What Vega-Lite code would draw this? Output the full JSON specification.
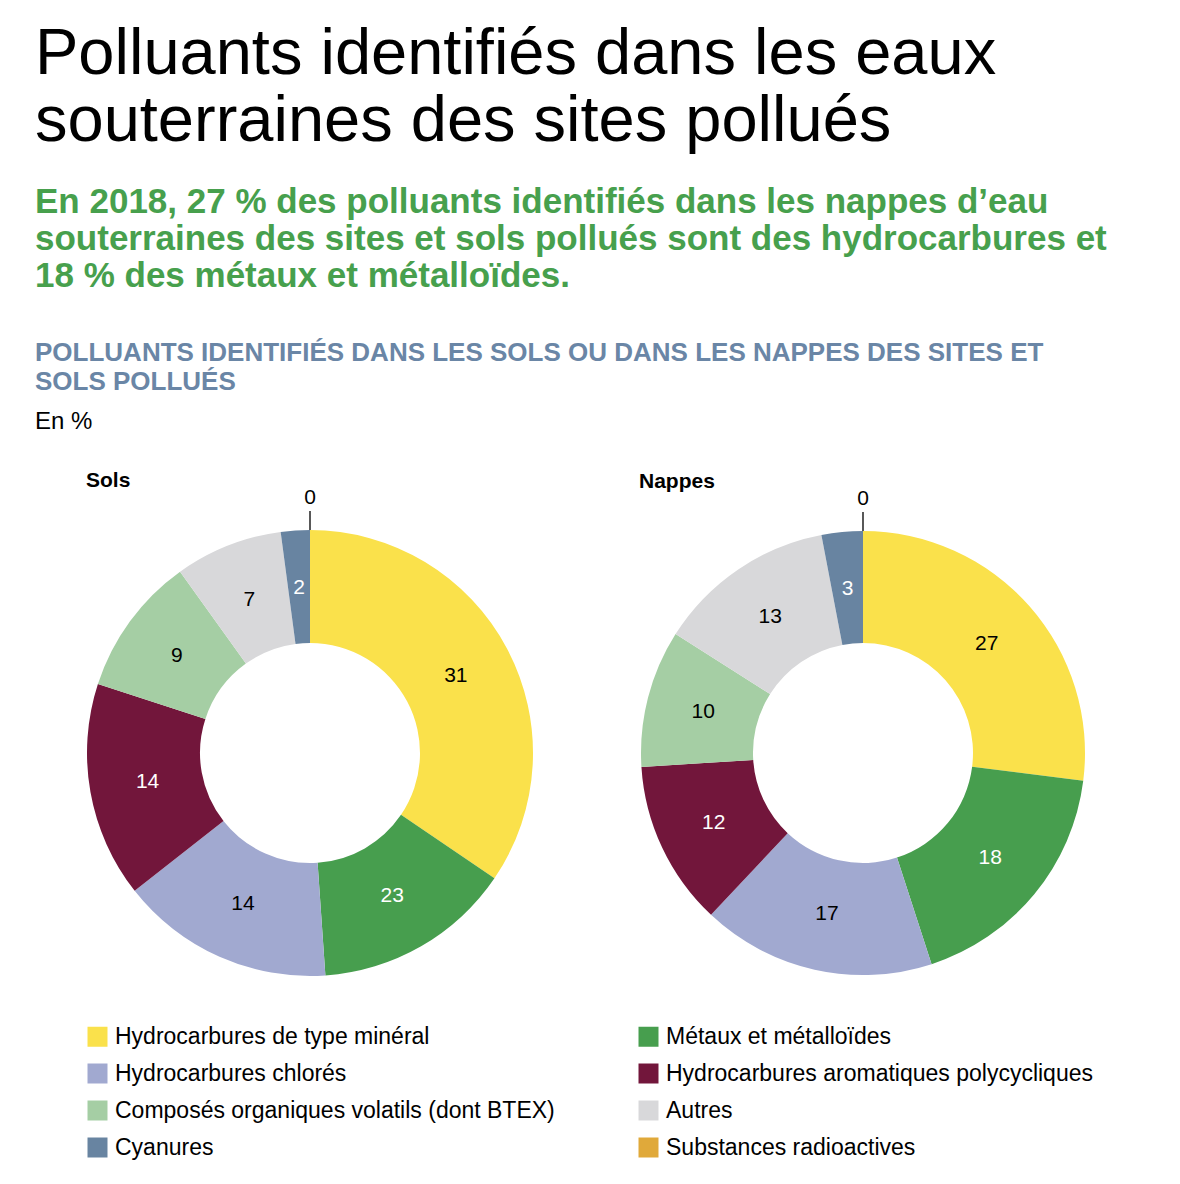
{
  "$schema": "https://vega.github.io/schema/vega-lite/v6.json",
  "background": "white",
  "padding": {"left": 35, "top": 22, "right": 10, "bottom": 10},
  "title": {
    "text": ["Polluants identifiés dans les eaux", "souterraines des sites pollués"],
    "subtitle": ["En 2018, 27 % des polluants identifiés dans les nappes d’eau", "souterraines des sites et sols pollués sont des hydrocarbures et", "18 % des métaux et métalloïdes."],
    "anchor": "start",
    "frame": "group",
    "dx": -51,
    "font": "Liberation Sans",
    "fontSize": 65,
    "fontWeight": "normal",
    "color": "black",
    "lineHeight": 67,
    "subtitleFont": "Liberation Sans",
    "subtitleFontSize": 35,
    "subtitleFontWeight": "bold",
    "subtitleColor": "#47a04d",
    "subtitleLineHeight": 37,
    "subtitlePadding": 30,
    "offset": 45
  },
  "data": {
    "values": [
      {"milieu": "Sols", "categorie": "Hydrocarbures de type minéral", "rang": 1, "part": 34.5, "valeur": 31},
      {"milieu": "Sols", "categorie": "Métaux et métalloïdes", "rang": 2, "part": 14.4, "valeur": 23},
      {"milieu": "Sols", "categorie": "Hydrocarbures chlorés", "rang": 3, "part": 15.5, "valeur": 14},
      {"milieu": "Sols", "categorie": "Hydrocarbures aromatiques polycycliques", "rang": 4, "part": 15.6, "valeur": 14},
      {"milieu": "Sols", "categorie": "Composés organiques volatils (dont BTEX)", "rang": 5, "part": 10.1, "valeur": 9},
      {"milieu": "Sols", "categorie": "Autres", "rang": 6, "part": 7.8, "valeur": 7},
      {"milieu": "Sols", "categorie": "Cyanures", "rang": 7, "part": 2.1, "valeur": 2},
      {"milieu": "Sols", "categorie": "Substances radioactives", "rang": 8, "part": 0, "valeur": 0},
      {"milieu": "Nappes", "categorie": "Hydrocarbures de type minéral", "rang": 1, "part": 27, "valeur": 27},
      {"milieu": "Nappes", "categorie": "Métaux et métalloïdes", "rang": 2, "part": 18, "valeur": 18},
      {"milieu": "Nappes", "categorie": "Hydrocarbures chlorés", "rang": 3, "part": 17, "valeur": 17},
      {"milieu": "Nappes", "categorie": "Hydrocarbures aromatiques polycycliques", "rang": 4, "part": 12, "valeur": 12},
      {"milieu": "Nappes", "categorie": "Composés organiques volatils (dont BTEX)", "rang": 5, "part": 10, "valeur": 10},
      {"milieu": "Nappes", "categorie": "Autres", "rang": 6, "part": 13, "valeur": 13},
      {"milieu": "Nappes", "categorie": "Cyanures", "rang": 7, "part": 3, "valeur": 3},
      {"milieu": "Nappes", "categorie": "Substances radioactives", "rang": 8, "part": 0, "valeur": 0}
    ]
  },
  "vconcat": [
    {
      "title": {
        "text": ["POLLUANTS IDENTIFIÉS DANS LES SOLS OU DANS LES NAPPES DES SITES ET", "SOLS POLLUÉS"],
        "subtitle": "En %",
        "anchor": "start",
        "frame": "group",
        "dx": -51,
        "font": "Liberation Sans",
        "fontSize": 26,
        "fontWeight": "bold",
        "color": "#6a86a6",
        "lineHeight": 29,
        "subtitleFont": "Liberation Sans",
        "subtitleFontSize": 24,
        "subtitleFontWeight": "normal",
        "subtitleColor": "black",
        "subtitlePadding": 15,
        "offset": 36
      },
      "spacing": 105,
      "hconcat": [
        {
          "title": {"text": "Sols", "anchor": "start", "frame": "group", "font": "Liberation Sans", "fontSize": 21, "fontWeight": "bold", "color": "black", "offset": -4},
          "width": 448,
          "height": 448,
          "transform": [{"filter": "datum.milieu === 'Sols'"}],
          "layer": [
            {
              "mark": {"type": "arc", "radius": 223, "innerRadius": 110},
              "encoding": {
                "theta": {"field": "part", "type": "quantitative", "stack": true},
                "order": {"field": "rang", "type": "quantitative"},
                "color": {
                  "field": "categorie",
                  "type": "nominal",
                  "scale": {
                    "domain": ["Hydrocarbures de type minéral", "Métaux et métalloïdes", "Hydrocarbures chlorés", "Hydrocarbures aromatiques polycycliques", "Composés organiques volatils (dont BTEX)", "Autres", "Cyanures", "Substances radioactives"],
                    "range": ["#fae14b", "#479e4e", "#a1a9d0", "#72163b", "#a5cea4", "#d8d8da", "#6884a1", "#e0a93a"]
                  }
                }
              }
            },
            {
              "transform": [{"filter": "datum.part > 0"}],
              "mark": {"type": "text", "radius": 165, "font": "Liberation Sans", "fontSize": 21, "align": "center", "baseline": "middle"},
              "encoding": {
                "theta": {"field": "part", "type": "quantitative", "stack": true},
                "order": {"field": "rang", "type": "quantitative"},
                "text": {"field": "valeur", "type": "quantitative"},
                "color": {"condition": {"test": "indexof(['Métaux et métalloïdes','Hydrocarbures aromatiques polycycliques','Cyanures'], datum.categorie) >= 0", "value": "white"}, "value": "black"}
              }
            },
            {
              "transform": [{"filter": "datum.part === 0"}],
              "mark": {"type": "arc", "radius": 242, "radius2": 223, "fill": null, "stroke": "black", "strokeWidth": 1.3},
              "encoding": {
                "theta": {"field": "part", "type": "quantitative", "stack": true}
              }
            },
            {
              "transform": [{"filter": "datum.part === 0"}],
              "mark": {"type": "text", "radius": 255, "font": "Liberation Sans", "fontSize": 21, "align": "center", "baseline": "middle", "color": "black"},
              "encoding": {
                "theta": {"field": "part", "type": "quantitative", "stack": true},
                "text": {"field": "valeur", "type": "quantitative"}
              }
            }
          ]
        },
        {
          "title": {"text": "Nappes", "anchor": "start", "frame": "group", "font": "Liberation Sans", "fontSize": 21, "fontWeight": "bold", "color": "black", "offset": -4},
          "width": 448,
          "height": 448,
          "transform": [{"filter": "datum.milieu === 'Nappes'"}],
          "layer": [
            {
              "mark": {"type": "arc", "radius": 222, "innerRadius": 110},
              "encoding": {
                "theta": {"field": "part", "type": "quantitative", "stack": true},
                "order": {"field": "rang", "type": "quantitative"},
                "color": {"field": "categorie", "type": "nominal"}
              }
            },
            {
              "transform": [{"filter": "datum.part > 0"}],
              "mark": {"type": "text", "radius": 165, "font": "Liberation Sans", "fontSize": 21, "align": "center", "baseline": "middle"},
              "encoding": {
                "theta": {"field": "part", "type": "quantitative", "stack": true},
                "order": {"field": "rang", "type": "quantitative"},
                "text": {"field": "valeur", "type": "quantitative"},
                "color": {"condition": {"test": "indexof(['Métaux et métalloïdes','Hydrocarbures aromatiques polycycliques','Cyanures'], datum.categorie) >= 0", "value": "white"}, "value": "black"}
              }
            },
            {
              "transform": [{"filter": "datum.part === 0"}],
              "mark": {"type": "arc", "radius": 241, "radius2": 222, "fill": null, "stroke": "black", "strokeWidth": 1.3},
              "encoding": {
                "theta": {"field": "part", "type": "quantitative", "stack": true}
              }
            },
            {
              "transform": [{"filter": "datum.part === 0"}],
              "mark": {"type": "text", "radius": 254, "font": "Liberation Sans", "fontSize": 21, "align": "center", "baseline": "middle", "color": "black"},
              "encoding": {
                "theta": {"field": "part", "type": "quantitative", "stack": true},
                "text": {"field": "valeur", "type": "quantitative"}
              }
            }
          ]
        }
      ]
    }
  ],
  "resolve": {"scale": {"color": "shared", "theta": "shared"}},
  "config": {
    "view": {"stroke": null},
    "font": "Liberation Sans",
    "legend": {
      "orient": "bottom",
      "columns": 2,
      "title": null,
      "symbolType": "square",
      "symbolSize": 400,
      "symbolStrokeWidth": 0,
      "symbolOpacity": 1,
      "labelFont": "Liberation Sans",
      "labelFontSize": 23,
      "labelColor": "black",
      "labelLimit": 700,
      "labelOffset": 6,
      "columnPadding": 82,
      "rowPadding": 13,
      "offset": 48
    }
  }
}
